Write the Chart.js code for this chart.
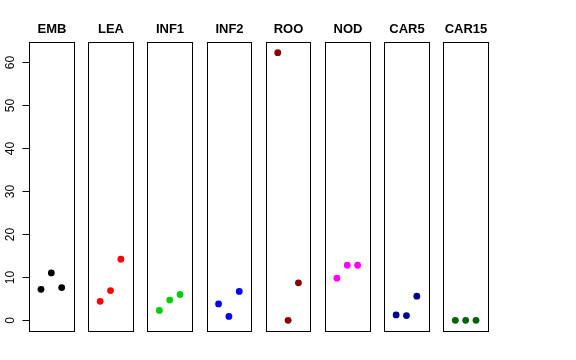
<!DOCTYPE html>
<html>
<head>
<meta charset="utf-8">
<script src="https://cdn.jsdelivr.net/npm/chart.js@4"></script>
<style>
  html, body { margin: 0; padding: 0; background: #fff; }
  #wrap { width: 576px; height: 360px; }
</style>
</head>
<body>
<div id="wrap"><canvas id="chart" width="576" height="360"></canvas></div>
<script>
// Panel names and colours
const groups = ['EMB', 'LEA', 'INF1', 'INF2', 'ROO', 'NOD', 'CAR5', 'CAR15'];
const colors = ['#000000', '#FF0000', '#00CD00', '#0000FF', '#8B0000', '#FF00FF', '#00008B', '#006400'];

// Three replicate values per panel
const EMB   = [7.2, 11.0, 7.6];
const LEA   = [4.4, 6.9, 14.2];
const INF1  = [2.3, 4.7, 6.0];
const INF2  = [3.8, 0.9, 6.7];
const ROO   = [62.2, 0.0, 8.7];
const NOD   = [9.8, 12.8, 12.8];
const CAR5  = [1.25, 1.1, 5.6];
const CAR15 = [0.0, 0.0, 0.0];
const values = [EMB, LEA, INF1, INF2, ROO, NOD, CAR5, CAR15];

const yTicks = [0, 10, 20, 30, 40, 50, 60];

// each panel has x range 0..4 (R adds 4%), panels placed side by side
const PANEL_LO = -0.16;
const PANEL_HI = 4.16;
const STEP = 5.724;

// R style y limits: data range + 4%
const all = values.flat();
const yMin0 = Math.min(...all), yMax0 = Math.max(...all);
const pad = (yMax0 - yMin0) * 0.04;

const datasets = values.map((vals, i) => ({
    label: groups[i],
    data: vals.map((v, j) => ({ x: i * STEP + (j + 1), y: v })),
    backgroundColor: colors[i],
    borderColor: colors[i],
    pointRadius: 3.4,
    pointHoverRadius: 3.4,
    borderWidth: 0
}));

// panel boxes, titles and the left axis
const panelsPlugin = {
    id: 'panels',
    afterDatasetsDraw(chart) {
        const ctx = chart.ctx;
        const xs = chart.scales.x, ys = chart.scales.y;
        const top = Math.round(chart.chartArea.top) + 0.5;
        const bottom = Math.round(chart.chartArea.bottom) + 0.5;
        ctx.save();
        ctx.strokeStyle = '#000';
        ctx.lineWidth = 1;
        groups.forEach((g, i) => {
            const l = Math.round(xs.getPixelForValue(i * STEP + PANEL_LO)) + 0.5;
            const r = Math.round(xs.getPixelForValue(i * STEP + PANEL_HI)) + 0.5;
            ctx.strokeRect(l, top, r - l, bottom - top);
            ctx.fillStyle = '#000';
            ctx.font = 'bold 13px "Liberation Sans", Arial, sans-serif';
            ctx.textAlign = 'center';
            ctx.textBaseline = 'alphabetic';
            ctx.fillText(g, (l + r) / 2, 33);
        });

        // y axis
        const ax = Math.round(xs.getPixelForValue(PANEL_LO)) + 0.5;
        ctx.beginPath();
        ctx.moveTo(ax, Math.round(ys.getPixelForValue(yTicks[0])) + 0.5);
        ctx.lineTo(ax, Math.round(ys.getPixelForValue(yTicks[yTicks.length - 1])) + 0.5);
        ctx.stroke();
        ctx.font = '12px "Liberation Sans", Arial, sans-serif';
        yTicks.forEach(t => {
            const py = Math.round(ys.getPixelForValue(t)) + 0.5;
            ctx.beginPath();
            ctx.moveTo(ax - 7, py);
            ctx.lineTo(ax, py);
            ctx.stroke();
            ctx.save();
            ctx.translate(14, py);
            ctx.rotate(-Math.PI / 2);
            ctx.textAlign = 'center';
            ctx.textBaseline = 'alphabetic';
            ctx.fillText(String(t), 0, 0);
            ctx.restore();
        });
        ctx.restore();
    }
};

new Chart(document.getElementById('chart'), {
    type: 'scatter',
    data: { datasets },
    options: {
        responsive: false,
        animation: false,
        layout: { padding: { left: 29, right: 88, top: 42, bottom: 29 } },
        plugins: {
            legend: { display: false },
            tooltip: { enabled: false }
        },
        scales: {
            x: {
                type: 'linear',
                display: false,
                min: PANEL_LO,
                max: (groups.length - 1) * STEP + PANEL_HI
            },
            y: {
                type: 'linear',
                display: false,
                min: yMin0 - pad,
                max: yMax0 + pad
            }
        }
    },
    plugins: [panelsPlugin]
});
</script>
</body>
</html>
